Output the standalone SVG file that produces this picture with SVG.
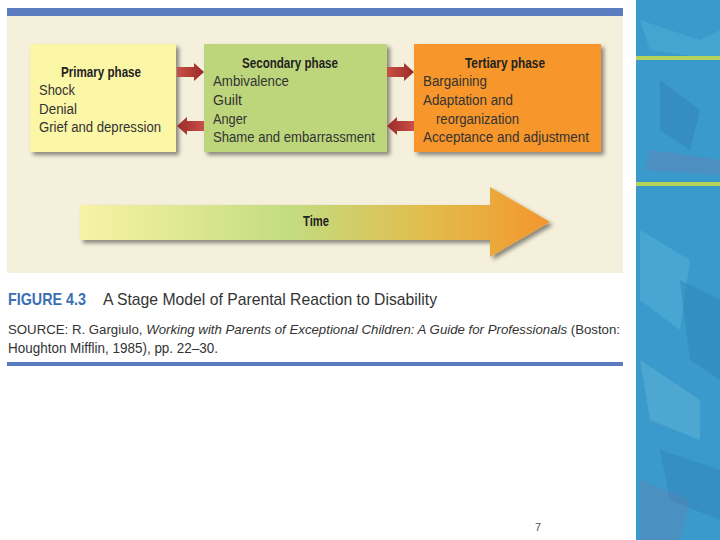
<svg xmlns="http://www.w3.org/2000/svg" width="720" height="540" viewBox="0 0 720 540">
<defs>
<style>
.t{font-family:"Liberation Sans",Arial,sans-serif;font-size:14px;fill:#333}
.b{font-weight:bold;fill:#222}
.cap{font-family:"Liberation Sans",Arial,sans-serif;fill:#333}
</style>
<filter id="sh" x="-10%" y="-10%" width="125%" height="130%">
<feGaussianBlur in="SourceAlpha" stdDeviation="2"/>
<feOffset dx="3" dy="3"/>
<feComponentTransfer><feFuncA type="linear" slope="0.45"/></feComponentTransfer>
<feMerge><feMergeNode/><feMergeNode in="SourceGraphic"/></feMerge>
</filter>
<linearGradient id="tg" x1="0" y1="0" x2="1" y2="0">
<stop offset="0" stop-color="#f8f2a6"/>
<stop offset="0.45" stop-color="#c3dc80"/>
<stop offset="0.75" stop-color="#e3bb4a"/>
<stop offset="1" stop-color="#f3962e"/>
</linearGradient>
<linearGradient id="rg" x1="0" y1="0" x2="1" y2="0">
<stop offset="0" stop-color="#c9504a"/>
<stop offset="1" stop-color="#9a2a26"/>
</linearGradient>
<linearGradient id="lg" x1="1" y1="0" x2="0" y2="0">
<stop offset="0" stop-color="#c9504a"/>
<stop offset="1" stop-color="#9a2a26"/>
</linearGradient>
</defs>
<rect width="720" height="540" fill="#ffffff"/>
<g id="sidepanel">
<rect x="636" y="0" width="84" height="540" fill="#3a9acb"/>
<path d="M640 20 L700 40 L720 30 L720 60 L650 50Z" fill="#4fb0d8" opacity="0.5"/>
<path d="M660 80 L700 110 L690 150 L660 130Z" fill="#2f7fb5" opacity="0.5"/>
<path d="M650 150 L720 160 L720 175 L645 170Z" fill="#6a7fae" opacity="0.4"/>
<path d="M640 230 L690 260 L680 330 L640 300Z" fill="#5db9dd" opacity="0.4"/>
<path d="M680 280 L720 300 L720 380 L690 360Z" fill="#2e84b8" opacity="0.5"/>
<path d="M640 360 L700 400 L700 440 L650 420Z" fill="#7fc6e0" opacity="0.3"/>
<path d="M660 450 L720 470 L720 520 L670 500Z" fill="#2f7fb5" opacity="0.4"/>
<path d="M640 480 L690 500 L680 540 L640 540Z" fill="#6a7fae" opacity="0.35"/>
<rect x="636" y="56" width="84" height="4" fill="#b5d35a"/>
<rect x="636" y="182" width="84" height="4" fill="#b5d35a"/>
</g>
<rect x="7" y="8" width="616" height="8" fill="#5b7cbf"/>
<rect x="7" y="16" width="616" height="257" fill="#f4f0dc"/>
<g id="primary">
<rect x="30" y="44" width="146" height="108" fill="#fcf6a7" filter="url(#sh)"/>
<text class="t b" x="61" y="77" textLength="80" lengthAdjust="spacingAndGlyphs">Primary phase</text>
<text class="t" x="39" y="95" textLength="36" lengthAdjust="spacingAndGlyphs">Shock</text>
<text class="t" x="39" y="114" textLength="38" lengthAdjust="spacingAndGlyphs">Denial</text>
<text class="t" x="39" y="132" textLength="122" lengthAdjust="spacingAndGlyphs">Grief and depression</text>
</g>
<g id="secondary">
<rect x="204" y="44" width="183" height="108" fill="#bdd67b" filter="url(#sh)"/>
<text class="t b" x="242" y="68" textLength="96" lengthAdjust="spacingAndGlyphs">Secondary phase</text>
<text class="t" x="213" y="86" textLength="76" lengthAdjust="spacingAndGlyphs">Ambivalence</text>
<text class="t" x="213" y="105" textLength="29" lengthAdjust="spacingAndGlyphs">Guilt</text>
<text class="t" x="213" y="124" textLength="34" lengthAdjust="spacingAndGlyphs">Anger</text>
<text class="t" x="213" y="142" textLength="162" lengthAdjust="spacingAndGlyphs">Shame and embarrassment</text>
</g>
<g id="tertiary">
<rect x="414" y="44" width="187" height="108" fill="#f7962c" filter="url(#sh)"/>
<text class="t b" x="465" y="68" textLength="80" lengthAdjust="spacingAndGlyphs">Tertiary phase</text>
<text class="t" x="423" y="86" textLength="64" lengthAdjust="spacingAndGlyphs">Bargaining</text>
<text class="t" x="423" y="105" textLength="90" lengthAdjust="spacingAndGlyphs">Adaptation and</text>
<text class="t" x="436" y="124" textLength="83" lengthAdjust="spacingAndGlyphs">reorganization</text>
<text class="t" x="423" y="142" textLength="166" lengthAdjust="spacingAndGlyphs">Acceptance and adjustment</text>
</g>
<g id="connectors">
<path d="M177 67 L194 67 L194 63 L204 72 L194 81 L194 77 L177 77Z" fill="url(#rg)"/>
<path d="M387 67 L404 67 L404 63 L414 72 L404 81 L404 77 L387 77Z" fill="url(#rg)"/>
<path d="M204 121 L187 121 L187 117 L177 126 L187 135 L187 131 L204 131Z" fill="url(#lg)"/>
<path d="M414 121 L397 121 L397 117 L387 126 L397 135 L397 131 L414 131Z" fill="url(#lg)"/>
</g>
<g id="time">
<path d="M80 205 L490 205 L490 187 L550 222 L490 257 L490 240 L80 240Z" fill="url(#tg)" filter="url(#sh)"/>
<text class="t b" x="303" y="226" textLength="26" lengthAdjust="spacingAndGlyphs">Time</text>
</g>
<text class="cap" x="8" y="305" font-size="17" font-weight="bold" style="fill:#3a6fb5" textLength="78" lengthAdjust="spacingAndGlyphs">FIGURE 4.3</text>
<text class="cap" x="103" y="305" font-size="17" textLength="334" lengthAdjust="spacingAndGlyphs">A Stage Model of Parental Reaction to Disability</text>
<text class="cap" x="8" y="334" font-size="13" textLength="612" lengthAdjust="spacingAndGlyphs">SOURCE: R. Gargiulo, <tspan font-style="italic">Working with Parents of Exceptional Children: A Guide for Professionals</tspan> (Boston:</text>
<text class="cap" x="8" y="353" font-size="14" textLength="210" lengthAdjust="spacingAndGlyphs">Houghton Mifflin, 1985), pp. 22–30.</text>
<rect x="7" y="362" width="616" height="4" fill="#5b7cbf"/>
<text x="535" y="531" font-family="Liberation Sans, sans-serif" font-size="11" fill="#555">7</text>
</svg>
